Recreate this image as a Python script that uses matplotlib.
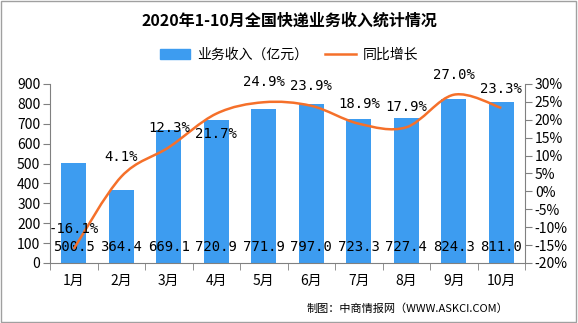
import matplotlib.pyplot as plt
import numpy as np
from matplotlib.path import Path
from matplotlib.patches import PathPatch, Rectangle
from matplotlib.lines import Line2D
from matplotlib.patches import Patch

plt.rcParams['font.family'] = ['Noto Sans CJK SC', 'DejaVu Sans']

months = ["1月", "2月", "3月", "4月", "5月", "6月", "7月", "8月", "9月", "10月"]
revenue = [500.5, 364.4, 669.1, 720.9, 771.9, 797.0, 723.3, 727.4, 824.3, 811.0]
growth = [-16.1, 4.1, 12.3, 21.7, 24.9, 23.9, 18.9, 17.9, 27.0, 23.3]

# where the percentage labels sit (right axis units)
growth_label_y = [-10.5, 9.6, 17.7, 16.0, 30.6, 29.4, 24.4, 23.6, 32.5, 28.6]

bar_color = "#3d9cf0"
line_color = "#f5702a"

fig = plt.figure(figsize=(5.78, 3.23), dpi=100)
fig.patches.append(Rectangle((0.002, 0.003), 0.995, 0.993, transform=fig.transFigure,
                             fill=False, edgecolor="#a0a0a0", linewidth=1))

ax = fig.add_axes([0.0865, 0.186, 0.822, 0.554])
ax2 = ax.twinx()

x = np.arange(len(months))
ax.bar(x, revenue, width=0.53, color=bar_color, zorder=2)
ax.set_xlim(-0.5, len(months) - 0.5)
ax.set_ylim(0, 900)
ax.set_yticks(np.arange(0, 901, 100))
ax.set_xticks(x)
ax.set_xticklabels(months, fontsize=10)
ax.set_xticks(np.arange(-0.5, len(months), 1), minor=True)
ax.tick_params(axis="x", which="major", length=0, pad=8)
ax.tick_params(axis="x", which="minor", length=5, color="#808080")
ax.tick_params(axis="y", length=5, color="#808080", labelsize=10, pad=2)

for xi, v in zip(x, revenue):
    ax.text(xi, 80, f"{v:.1f}", ha="center", va="center", fontsize=10,
            family=["DejaVu Sans Mono"], zorder=5)

# smoothed growth line via bezier segments
pts = np.column_stack([x, growth]).astype(float)
verts = [pts[0]]
codes = [Path.MOVETO]
n = len(pts)
for i in range(n - 1):
    p0 = pts[i - 1] if i > 0 else pts[i]
    p1 = pts[i]
    p2 = pts[i + 1]
    p3 = pts[i + 2] if i + 2 < n else pts[i + 1]
    c1 = p1 + (p2 - p0) / 6
    c2 = p2 - (p3 - p1) / 6
    verts += [c1, c2, p2]
    codes += [Path.CURVE4] * 3
ax2.add_patch(PathPatch(Path(verts, codes), fill=False, edgecolor=line_color,
                        linewidth=1.8, zorder=3))
ax2.set_ylim(-20, 30)
ax2.set_yticks(np.arange(-20, 31, 5))
ax2.set_yticklabels([f"{t}%" for t in range(-20, 31, 5)])
ax2.tick_params(axis="y", length=5, color="#808080", labelsize=10, pad=2)

for xi, v, ly in zip(x, growth, growth_label_y):
    ax2.text(xi, ly, f"{v:.1f}%", ha="center", va="center", fontsize=10,
             family=["DejaVu Sans Mono"], zorder=5, clip_on=False)

for a in (ax, ax2):
    a.spines["top"].set_visible(False)
    for s in ("left", "right", "bottom"):
        a.spines[s].set_color("#808080")
ax.spines["right"].set_visible(False)
ax2.spines["left"].set_visible(False)
ax2.spines["bottom"].set_visible(False)

fig.text(0.5, 0.935, "2020年1-10月全国快递业务收入统计情况", ha="center", va="center",
         fontsize=11.5, fontweight="bold")

handles = [Patch(color=bar_color), Line2D([0], [0], color=line_color, lw=1.8)]
fig.legend(handles, ["业务收入（亿元）", "同比增长"], loc="center",
           bbox_to_anchor=(0.5, 0.83), ncol=2, frameon=False, fontsize=10,
           handlelength=2.2, handleheight=0.7, columnspacing=1.2, handletextpad=0.5)

fig.text(0.88, 0.045, "制图：中商情报网（WWW.ASKCI.COM）", ha="right", va="center",
         fontsize=8)

fig.savefig("out.png", dpi=100)
